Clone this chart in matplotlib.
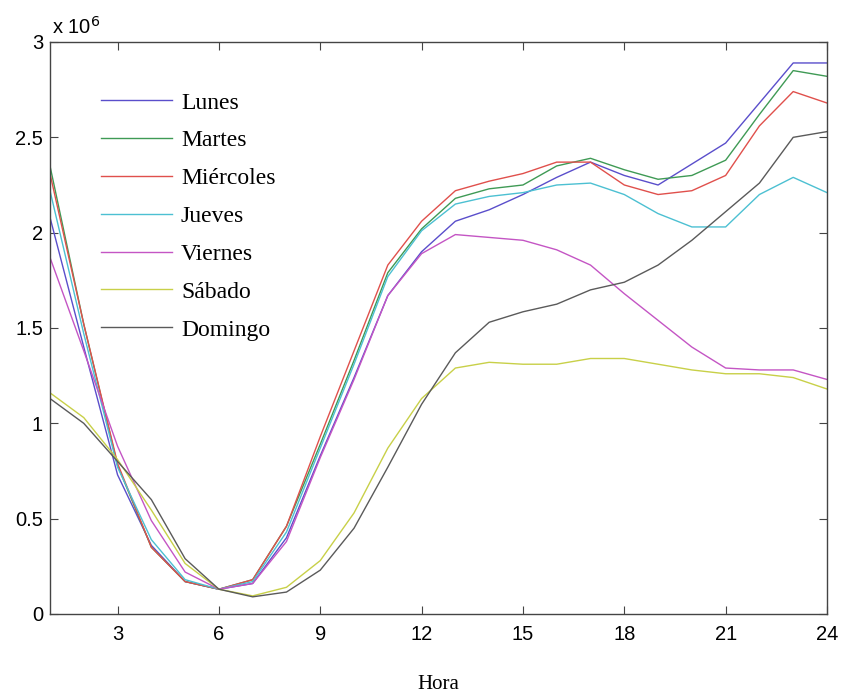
import matplotlib
matplotlib.use("Agg")
import matplotlib.pyplot as plt

hours = list(range(1, 25))
days = ["Lunes", "Martes", "Miércoles", "Jueves", "Viernes", "Sábado", "Domingo"]

lunes = [2.08, 1.40, 0.73, 0.36, 0.17, 0.13, 0.16, 0.40, 0.83, 1.24, 1.67, 1.90,
         2.06, 2.12, 2.20, 2.29, 2.37, 2.30, 2.25, 2.36, 2.47, 2.68, 2.89, 2.89]
martes = [2.35, 1.52, 0.78, 0.35, 0.17, 0.13, 0.18, 0.46, 0.89, 1.33, 1.79, 2.02,
          2.18, 2.23, 2.25, 2.35, 2.39, 2.33, 2.28, 2.30, 2.38, 2.62, 2.85, 2.82]
miercoles = [2.31, 1.52, 0.79, 0.35, 0.17, 0.13, 0.18, 0.46, 0.93, 1.38, 1.83, 2.06,
             2.22, 2.27, 2.31, 2.37, 2.37, 2.25, 2.20, 2.22, 2.30, 2.56, 2.74, 2.68]
jueves = [2.22, 1.47, 0.77, 0.39, 0.18, 0.13, 0.17, 0.43, 0.87, 1.31, 1.77, 2.01,
          2.15, 2.19, 2.21, 2.25, 2.26, 2.20, 2.10, 2.03, 2.03, 2.20, 2.29, 2.21]
viernes = [1.87, 1.38, 0.88, 0.49, 0.22, 0.13, 0.16, 0.38, 0.82, 1.23, 1.67, 1.89,
           1.99, 1.975, 1.96, 1.91, 1.83, 1.68, 1.54, 1.40, 1.29, 1.28, 1.28, 1.23]
sabado = [1.16, 1.03, 0.81, 0.545, 0.265, 0.13, 0.095, 0.14, 0.28, 0.53, 0.87, 1.13,
          1.29, 1.32, 1.31, 1.31, 1.34, 1.34, 1.31, 1.28, 1.26, 1.26, 1.24, 1.18]
domingo = [1.13, 1.00, 0.80, 0.60, 0.29, 0.13, 0.09, 0.115, 0.23, 0.45, 0.77, 1.10,
           1.37, 1.53, 1.585, 1.625, 1.70, 1.74, 1.83, 1.96, 2.11, 2.26, 2.50, 2.53]

series = [lunes, martes, miercoles, jueves, viernes, sabado, domingo]
colors = ["#5a4ecb", "#3f9a55", "#e0504c", "#4cc0d2", "#c455c4", "#c8d048", "#5a5a5a"]

xticks = [3, 6, 9, 12, 15, 18, 21, 24]
yticks = [0, 0.5, 1, 1.5, 2, 2.5, 3]
ytick_labels = ["0", "0.5", "1", "1.5", "2", "2.5", "3"]

fig = plt.figure(figsize=(8.43, 6.93), dpi=100)
ax = fig.add_axes([0.0593, 0.114, 0.9217, 0.8254])

for vals, name, c in zip(series, days, colors):
    ax.plot(hours, [v * 1e6 for v in vals], color=c, lw=1.0, label=name)

ax.set_xlim(1, 24)
ax.set_ylim(0, 3e6)
ax.set_xticks(xticks)
ax.set_xticklabels([str(t) for t in xticks], fontfamily="Liberation Sans", fontsize=14.5)
ax.set_yticks([t * 1e6 for t in yticks])
ax.set_yticklabels(ytick_labels, fontfamily="Liberation Sans", fontsize=14.5)
ax.tick_params(direction="in", length=6, width=0.8, color="#444444",
               top=True, right=True)
ax.tick_params(axis="y", pad=5)
ax.tick_params(axis="x", pad=8)
for s in ax.spines.values():
    s.set_color("#444444")
    s.set_linewidth(1.0)

ax.text(0.003, 1.007, r"x 10$^{6}$", transform=ax.transAxes, fontsize=14.5,
        fontfamily="Liberation Sans", ha="left", va="bottom")

ax.set_xlabel("Hora", fontfamily="Liberation Serif", fontsize=15, labelpad=22)

leg = ax.legend(loc="upper left", bbox_to_anchor=(0.0384, 0.9495), frameon=False,
                prop={"family": "Liberation Serif", "size": 17},
                handlelength=3.0, handletextpad=0.38, labelspacing=0.69)

fig.savefig("out.png", dpi=100)
